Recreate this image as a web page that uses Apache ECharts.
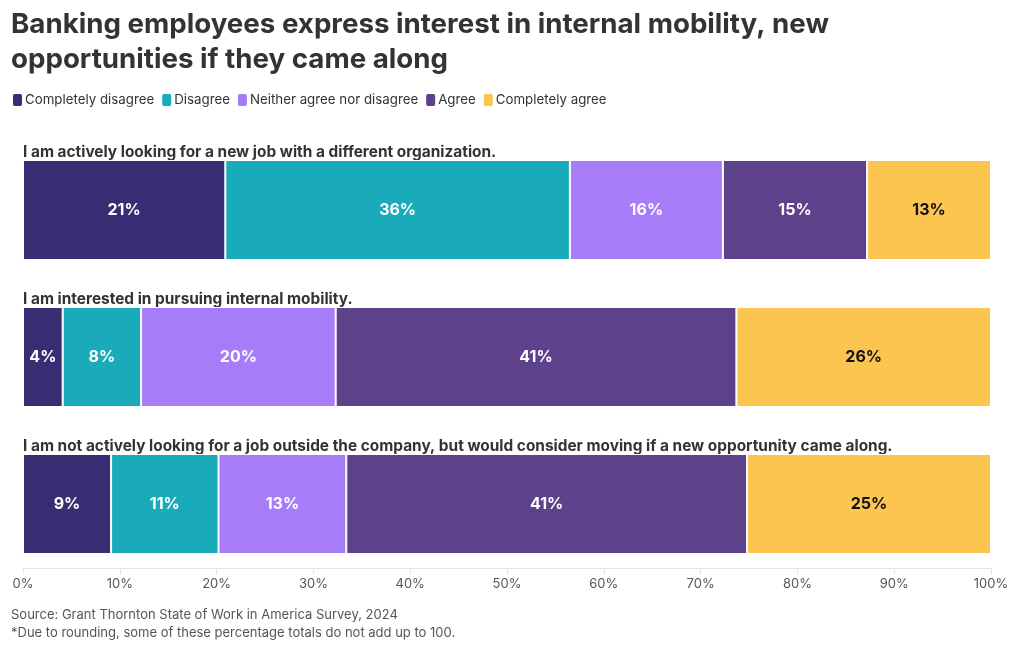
<!DOCTYPE html>
<html>
<head>
<meta charset="utf-8">
<script src="https://cdn.jsdelivr.net/npm/echarts@6/dist/echarts.min.js"></script>
<style>
html,body{margin:0;padding:0;background:#fff;}
#chart{width:1020px;height:650px;}
</style>
</head>
<body>
<div id="chart"></div>
<script>
const categories = [
  "I am actively looking for a new job with a different organization.",
  "I am interested in pursuing internal mobility.",
  "I am not actively looking for a job outside the company, but would consider moving if a new opportunity came along."
];
const seriesNames = ["Completely disagree", "Disagree", "Neither agree nor disagree", "Agree", "Completely agree"];
const completelyDisagree = [20.9, 4.1, 9.1];
const disagree = [35.6, 8.1, 11.1];
const neither = [15.8, 20.1, 13.2];
const agree = [14.9, 41.4, 41.4];
const completelyAgree = [12.8, 26.3, 25.2];
const tickLabels = ["0%", "10%", "20%", "30%", "40%", "50%", "60%", "70%", "80%", "90%", "100%"];

const colors = ["#382d72", "#1aabbb", "#a77cf9", "#5e418b", "#fcc550"];
const labelColors = ["#ffffff", "#ffffff", "#ffffff", "#ffffff", "#111111"];
const allData = [completelyDisagree, disagree, neither, agree, completelyAgree];
const FONT = "Inter, 'Noto Sans', sans-serif";

const chart = echarts.init(document.getElementById('chart'));
chart.setOption({
  animation: false,
  textStyle: { fontFamily: FONT },
  title: {
    text: "Banking employees express interest in internal mobility, new\nopportunities if they came along",
    left: 6, top: 2,
    textStyle: { fontFamily: FONT, fontSize: 27.7, fontWeight: 'bold', color: '#333333', lineHeight: 35 }
  },
  legend: {
    left: 6, top: 87,
    itemWidth: 11, itemHeight: 14, itemGap: 6,
    icon: 'roundRect',
    textStyle: { fontFamily: FONT, fontSize: 13.3, color: '#333333', padding: [0,0,0,-3] },
    data: seriesNames
  },
  grid: { left: 23, right: 29, top: 136.5, bottom: 72.5, containLabel: false },
  xAxis: {
    type: 'value', min: 0, max: 100, interval: 10,
    offset: -9.5,
    axisLine: { show: true, lineStyle: { color: '#e6e6e6' } },
    axisTick: { show: true, length: 6, lineStyle: { color: '#e6e6e6' } },
    splitLine: { show: false },
    axisLabel: {
      margin: 10, fontSize: 13, color: '#555555', fontFamily: FONT,
      formatter: function (v) { return tickLabels[Math.round(v / 10)]; }
    }
  },
  yAxis: {
    type: 'category', inverse: true, data: categories,
    axisLine: { show: false }, axisTick: { show: false },
    axisLabel: {
      inside: true, margin: 0, align: 'left', verticalAlign: 'bottom',
      padding: [0, 0, 50, 0],
      fontSize: 15.4, fontWeight: 'bold', color: '#333333', fontFamily: FONT
    }
  },
  series: seriesNames.map(function (name, i) {
    return {
      name: name, type: 'bar', stack: 'total',
      barWidth: 100,
      data: allData[i],
      itemStyle: { color: colors[i], borderColor: '#ffffff', borderWidth: 1 },
      label: {
        show: true, position: 'inside',
        fontSize: 16, fontWeight: 'bold', color: labelColors[i], fontFamily: FONT,
        formatter: function (p) { return Math.round(p.value) + '%'; }
      }
    };
  }),
  graphic: [
    { type: 'text', left: 11, top: 609, style: { text: 'Source: Grant Thornton State of Work in America Survey, 2024', font: '13px ' + FONT, fill: '#555555' } },
    { type: 'text', left: 11, top: 627, style: { text: '*Due to rounding, some of these percentage totals do not add up to 100.', font: '13px ' + FONT, fill: '#555555' } }
  ]
});
</script>
</body>
</html>
